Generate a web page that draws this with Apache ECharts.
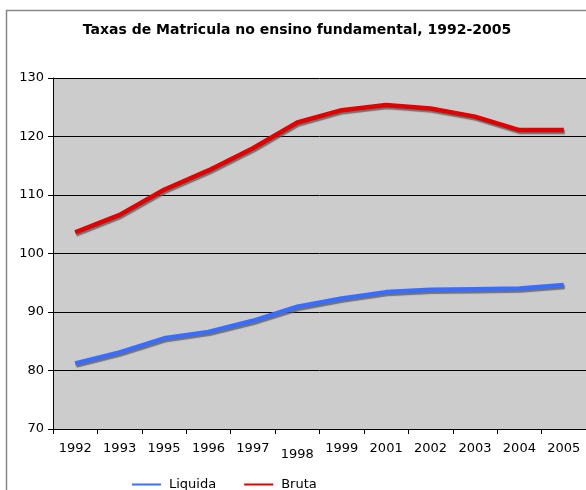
<!DOCTYPE html>
<html>
<head>
<meta charset="utf-8">
<script src="https://cdn.jsdelivr.net/npm/echarts@6/dist/echarts.min.js"></script>
<style>
  html, body { margin: 0; padding: 0; background: #fff; }
  #chart { width: 586px; height: 490px; }
</style>
</head>
<body>
<div id="chart"></div>
<script>
const years = ['1992', '1993', '1995', '1996', '1997', '1998', '1999', '2001', '2002', '2003', '2004', '2005'];
const liquida = [81.2, 83.1, 85.5, 86.6, 88.5, 90.9, 92.3, 93.4, 93.8, 93.9, 94.0, 94.6];
const bruta = [103.6, 106.6, 110.9, 114.2, 118.0, 122.4, 124.5, 125.4, 124.8, 123.4, 121.1, 121.1];
const yTicks = [70, 80, 90, 100, 110, 120, 130];

const chart = echarts.init(document.getElementById('chart'));

const lineSeries = (name, data, color) => ({
  name: name,
  type: 'line',
  data: data,
  symbol: 'none',
  color: color,
  lineStyle: {
    width: 4.5,
    color: color,
    shadowColor: 'rgba(90,90,90,0.8)',
    shadowOffsetX: 1,
    shadowOffsetY: 2,
    shadowBlur: 1
  }
});

chart.setOption({
  animation: false,
  backgroundColor: '#fff',
  textStyle: { fontFamily: 'DejaVu Sans' },
  title: {
    text: 'Taxas de Matricula no ensino fundamental, 1992-2005',
    left: 292,
    textAlign: 'center',
    top: 18,
    textStyle: { fontSize: 14, fontWeight: 'bold', color: '#000', fontFamily: 'DejaVu Sans' }
  },
  legend: {
    top: 473,
    left: 127,
    itemGap: 28,
    itemWidth: 29,
    itemHeight: 2,
    icon: 'rect',
    textStyle: { fontSize: 13, color: '#000', fontFamily: 'DejaVu Sans', padding: [0, 0, 0, 3] },
    data: ['Liquida', 'Bruta']
  },
  graphic: [{
    type: 'rect',
    shape: { x: 6.5, y: 10.5, width: 600, height: 500 },
    style: { fill: 'none', stroke: '#888', lineWidth: 1.5 },
    silent: true
  }],
  grid: { left: 53, right: -1, top: 78, bottom: 61, show: true, backgroundColor: '#cccccc', borderWidth: 0 },
  xAxis: {
    type: 'category',
    data: years,
    boundaryGap: true,
    axisLine: { lineStyle: { color: '#000', width: 1 } },
    axisTick: { show: true, interval: 0, length: 5, lineStyle: { color: '#000' } },
    axisLabel: {
      interval: 0,
      margin: 13,
      fontSize: 13,
      color: '#000',
      formatter: v => v === '1998' ? '{low|' + v + '}' : v,
      rich: { low: { fontSize: 13, color: '#000', padding: [6, 0, 0, 0] } }
    }
  },
  yAxis: {
    type: 'value',
    min: yTicks[0],
    max: yTicks[yTicks.length - 1],
    interval: 10,
    axisLine: { show: true, lineStyle: { color: '#000', width: 1 } },
    axisTick: { show: true, length: 5, lineStyle: { color: '#000' } },
    axisLabel: { fontSize: 13, color: '#000', margin: 9 },
    splitLine: { lineStyle: { color: '#000', width: 1 } }
  },
  series: [
    lineSeries('Liquida', liquida, '#3a6cff'),
    lineSeries('Bruta', bruta, '#e00000')
  ]
});
</script>
</body>
</html>
